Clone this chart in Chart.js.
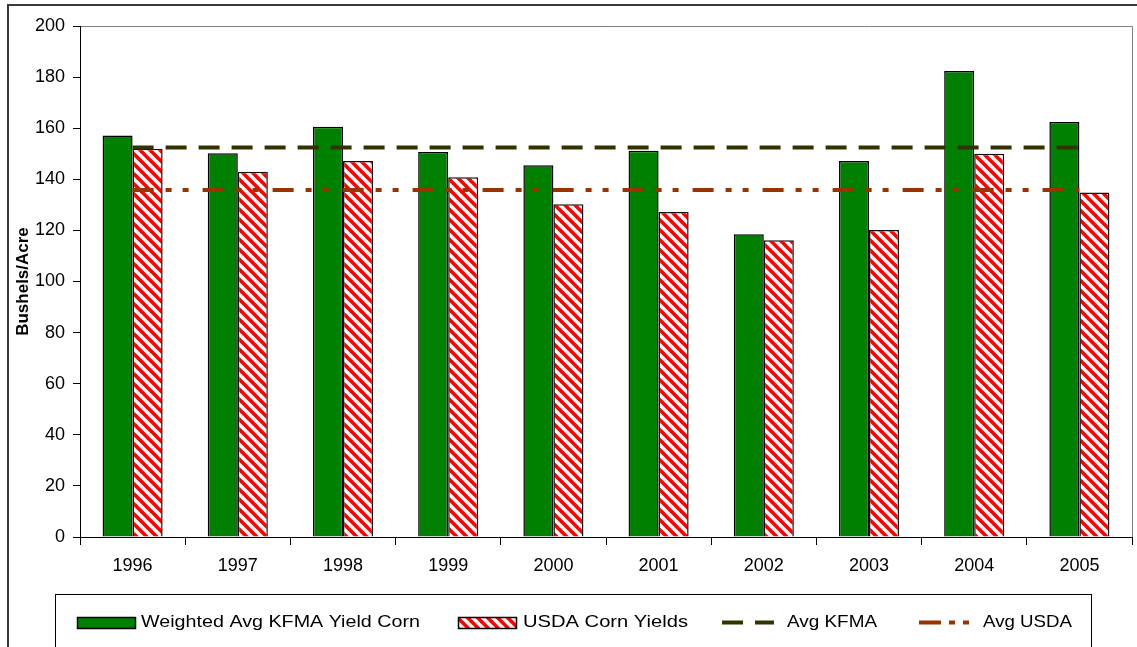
<!DOCTYPE html>
<html>
<head>
<meta charset="utf-8">
<script src="https://cdn.jsdelivr.net/npm/chart.js@4/dist/chart.umd.min.js"></script>
<style>
  html, body { margin: 0; padding: 0; background: #fff; }
  #wrap { width: 1137px; height: 647px; position: relative; }
</style>
</head>
<body>
<div id="wrap"><canvas id="c" width="1137" height="647"></canvas></div>
<script>
// ---- data ----
const years = ['1996','1997','1998','1999','2000','2001','2002','2003','2004','2005'];
const kfmaYield = [157.1, 150.2, 160.6, 150.7, 145.5, 151.2, 118.5, 147.2, 182.4, 162.4];
const usdaYield = [152.0, 143.0, 147.2, 140.8, 130.2, 127.2, 116.1, 120.2, 150.0, 134.8];
const avgKfma = [152.4, 152.4, 152.4, 152.4, 152.4, 152.4, 152.4, 152.4, 152.4, 152.4];
const avgUsda = [135.8, 135.8, 135.8, 135.8, 135.8, 135.8, 135.8, 135.8, 135.8, 135.8];
const seriesNames = ['Weighted Avg KFMA Yield Corn', 'USDA Corn Yields', 'Avg KFMA', 'Avg USDA'];
const yTitle = 'Bushels/Acre';

const FONT = 'Liberation Sans, Arial, sans-serif';

function makeHatch() {
  const s = 10;
  const t = document.createElement('canvas');
  t.width = s; t.height = s;
  const g = t.getContext('2d');
  g.fillStyle = '#ffffff';
  g.fillRect(0, 0, s, s);
  g.strokeStyle = '#ff0000';
  g.lineWidth = 3.6;
  for (let k = -1; k <= 1; k++) {
    g.beginPath();
    g.moveTo(k * s - 2, -2);
    g.lineTo(k * s + s + 2, s + 2);
    g.stroke();
  }
  return document.getElementById('c').getContext('2d').createPattern(t, 'repeat');
}
const hatch = makeHatch();

const framePlugin = {
  id: 'frame',
  beforeDraw(chart) {
    const ctx = chart.ctx;
    ctx.save();
    ctx.fillStyle = '#fff';
    ctx.fillRect(0, 0, chart.width, chart.height);
    // outer chart border
    ctx.strokeStyle = '#3a3a3a';
    ctx.lineWidth = 2;
    ctx.strokeRect(8, 5, chart.width + 20, chart.height + 20);
    // plot area border (top/right)
    const a = chart.chartArea;
    ctx.strokeStyle = '#808080';
    ctx.lineWidth = 1;
    ctx.beginPath();
    ctx.moveTo(a.left, Math.round(a.top) + 0.5);
    ctx.lineTo(Math.round(a.right) + 0.5, Math.round(a.top) + 0.5);
    ctx.lineTo(Math.round(a.right) + 0.5, a.bottom);
    ctx.stroke();
    ctx.restore();
  },
  afterDraw(chart) {
    const ctx = chart.ctx;
    ctx.save();
    // legend box
    ctx.strokeStyle = '#000';
    ctx.lineWidth = 1;
    ctx.strokeRect(55.5, 594.5, 1036, 80);
    const ds = chart.data.datasets;
    const cy = 622.5;
    const items = [
      { icon: [77, 135], text: 141, end: 420 },
      { icon: [458, 516], text: 523, end: 688 },
      { icon: [722, 774], text: 787, end: 877 },
      { icon: [919, 977], text: 983, end: 1072 }
    ];
    ctx.font = '17px ' + FONT;
    ctx.textBaseline = 'middle';
    ctx.fillStyle = '#000';
    items.forEach((it, i) => {
      const d = ds[i];
      if (d.type === 'line') {
        ctx.strokeStyle = d.borderColor;
        ctx.lineWidth = d.borderWidth;
        ctx.setLineDash(d.legendDash);
        ctx.beginPath();
        ctx.moveTo(it.icon[0], cy);
        ctx.lineTo(it.icon[1], cy);
        ctx.stroke();
        ctx.setLineDash([]);
      } else {
        ctx.fillStyle = d.backgroundColor;
        ctx.fillRect(it.icon[0], cy - 5.5, it.icon[1] - it.icon[0], 11);
        ctx.strokeStyle = '#000';
        ctx.lineWidth = 1.5;
        ctx.strokeRect(it.icon[0] + 0.5, cy - 5, it.icon[1] - it.icon[0], 11);
      }
      ctx.fillStyle = '#000';
      const w = ctx.measureText(d.label).width;
      const sx = Math.max(1, (it.end - it.text) / w);
      ctx.save();
      ctx.translate(it.text, cy);
      ctx.scale(sx, 1);
      ctx.fillText(d.label, 0, 0);
      ctx.restore();
    });
    ctx.restore();
  }
};

new Chart(document.getElementById('c'), {
  type: 'bar',
  data: {
    labels: years,
    datasets: [
      { label: seriesNames[0], data: kfmaYield, backgroundColor: '#008000', borderColor: '#000', borderWidth: 1.5, order: 2,
        categoryPercentage: 0.571, barPercentage: 1.0 },
      { label: seriesNames[1], data: usdaYield, backgroundColor: hatch, borderColor: '#111', borderWidth: 1.5, order: 2,
        categoryPercentage: 0.571, barPercentage: 1.0 },
      { type: 'line', label: seriesNames[2], data: avgKfma, borderColor: '#333300', borderWidth: 4,
        borderDash: [21, 12], legendDash: [21, 12], pointRadius: 0, fill: false, order: 0, borderCapStyle: 'butt' },
      { type: 'line', label: seriesNames[3], data: avgUsda, borderColor: '#993300', borderWidth: 4,
        borderDash: [21, 12, 6, 11, 6, 14], legendDash: [22, 8, 6, 8, 6, 8], pointRadius: 0, fill: false, order: 0, borderCapStyle: 'butt' }
    ]
  },
  options: {
    responsive: false,
    animation: false,
    events: [],
    layout: { padding: { left: 0, top: 26, right: 5, bottom: 70 } },
    plugins: { legend: { display: false }, tooltip: { enabled: false } },
    scales: {
      x: {
        grid: { offset: true, drawOnChartArea: false, drawTicks: true, tickLength: 8, color: '#000', lineWidth: 1 },
        border: { display: true, color: '#000', width: 1 },
        ticks: { color: '#000', font: { family: FONT, size: 18 }, padding: 10, maxRotation: 0 },
        afterFit(s) { s.height = 40; }
      },
      y: {
        min: 0, max: 200,
        ticks: { stepSize: 20, color: '#000', font: { family: FONT, size: 18 }, padding: 8 },
        grid: { drawOnChartArea: false, drawTicks: true, tickLength: 7, color: '#000', lineWidth: 1 },
        border: { display: true, color: '#000', width: 1 },
        title: { display: true, text: yTitle, color: '#000', font: { family: FONT, size: 17, weight: 'bold' }, padding: { top: 13, bottom: 0 } },
        afterFit(s) { s.width = 80; }
      }
    }
  },
  plugins: [framePlugin]
});
</script>
</body>
</html>
